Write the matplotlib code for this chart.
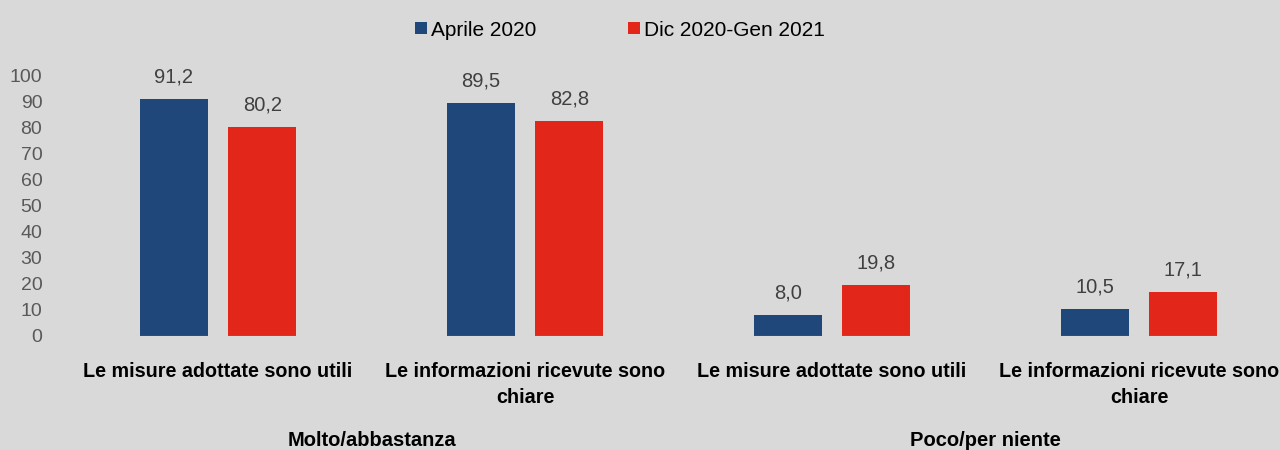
import matplotlib
matplotlib.use('Agg')
import matplotlib.pyplot as plt
import numpy as np

categories = ['Le misure adottate sono utili', 'Le informazioni ricevute sono\nchiare',
              'Le misure adottate sono utili', 'Le informazioni ricevute sono\nchiare']
groups = ['Molto/abbastanza', 'Poco/per niente']
aprile = [91.2, 89.5, 8.0, 10.5]
dic_gen = [80.2, 82.8, 19.8, 17.1]
series_names = ['Aprile 2020', 'Dic 2020-Gen 2021']

plt.rcParams['font.family'] = ['Liberation Sans', 'DejaVu Sans']
bg = '#d9d9d9'
blue = '#1f4779'
red = '#e3261a'

fig = plt.figure(figsize=(12.8, 4.5), dpi=100, facecolor=bg)
W, H = 1280, 450
left, right = 64.5, 1280
bottom, top = 336, 76
ax = fig.add_axes([left / W, (H - bottom) / H, (right - left) / W, (bottom - top) / H])
ax.set_facecolor(bg)

x = np.arange(len(categories))
w = 0.22
b1 = ax.bar(x - 0.144, aprile, w, color=blue, label=series_names[0])
b2 = ax.bar(x + 0.144, dic_gen, w, color=red, label=series_names[1])
ax.bar_label(b1, labels=[f'{v:.1f}'.replace('.', ',') for v in aprile], padding=9,
             fontsize=14.5, color='#404040')
ax.bar_label(b2, labels=[f'{v:.1f}'.replace('.', ',') for v in dic_gen], padding=9,
             fontsize=14.5, color='#404040')

ax.set_xlim(-0.5, (right - left) / 307 - 0.5)
ax.set_ylim(0, 100)
ax.set_yticks(range(0, 101, 10))
ax.tick_params(axis='y', length=0, pad=16, labelsize=14, labelcolor='#595959')
ax.set_xticks(x)
ax.set_xticklabels(categories, fontweight='bold', fontsize=14.2, color='black', linespacing=1.45)
ax.tick_params(axis='x', length=0, pad=19)
for s in ax.spines.values():
    s.set_visible(False)
ax.axhline(0, color='#cccccc', lw=0.8)

# group labels under the categories
for i, g in enumerate(groups):
    xc = 2 * i + 0.5
    xp = left + (xc + 0.5) * 307
    fig.text(xp / W, (H - 440) / H, g, ha='center', va='center', fontsize=14.5,
             fontweight='bold', color='black')

leg = fig.legend(handles=[b1, b2], labels=series_names, loc='center', bbox_to_anchor=(620 / W, (H - 30) / H),
                 ncol=2, frameon=False, fontsize=15, handlelength=0.55, handleheight=0.55,
                 handletextpad=0.2, columnspacing=4.4)

fig.savefig('out.png', dpi=100, facecolor=bg)
